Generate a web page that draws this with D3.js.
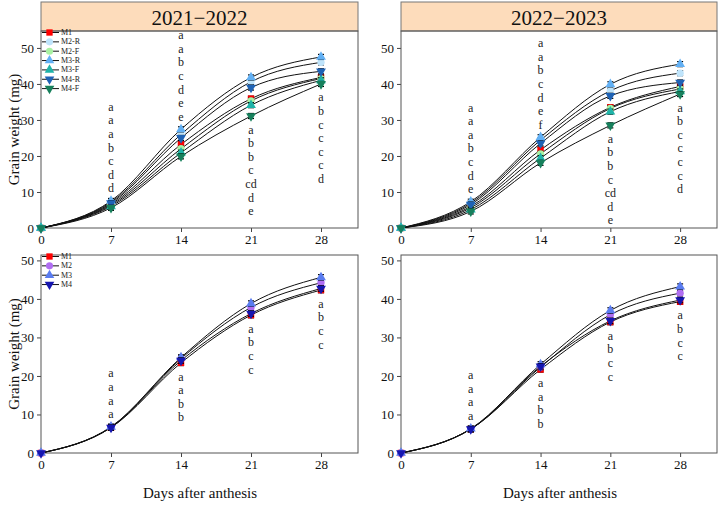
<!DOCTYPE html>
<html>
<head>
<meta charset="utf-8">
<script src="https://cdn.jsdelivr.net/npm/d3@7"></script>
<style>
body { margin: 0; background: #fff; }
text { font-family: "Liberation Serif", "Times New Roman", serif; }
</style>
</head>
<body>
<svg id="chart" width="719" height="506"></svg>
<script>
// sampling days (day 0 = 0 mg for every treatment)
var days = [0, 7, 14, 21, 28];
var xTicks = [0, 7, 14, 21, 28];
var yTicks = [0, 10, 20, 30, 40, 50];
var seasons = ["2021\u22122022", "2022\u22122023"];

// top row: cultivation mode x R/F
var treatTop = ["M1", "M2-R", "M2-F", "M3-R", "M3-F", "M4-R", "M4-F"];
var colorTop = ["#ff0000", "#bfe4fb", "#a9f2a4", "#62b0f4", "#1fb3a8", "#1f63b5", "#17805c"];
var shapeTop = ["square", "circle", "circle", "up", "up", "down", "down"];

var top2122 = [
  [0, 6.6, 23.2, 35.9, 41.8],
  [0, 7.2, 26.0, 40.6, 46.0],
  [0, 6.3, 22.0, 35.3, 41.5],
  [0, 7.5, 27.4, 41.8, 47.5],
  [0, 6.0, 20.9, 34.1, 41.0],
  [0, 6.9, 25.0, 39.0, 43.5],
  [0, 5.6, 19.9, 31.1, 40.0]
];
var top2223 = [
  [0, 6.0, 21.7, 33.5, 39.3],
  [0, 6.9, 24.4, 38.1, 43.0],
  [0, 5.6, 20.6, 33.2, 38.6],
  [0, 7.3, 25.2, 39.9, 45.5],
  [0, 5.1, 19.4, 32.3, 37.9],
  [0, 6.5, 23.5, 36.7, 40.4],
  [0, 4.6, 18.1, 28.5, 37.2]
];

// bottom row: cultivation mode only
var treatBottom = ["M1", "M2", "M3", "M4"];
var colorBottom = ["#ff0000", "#b06ef2", "#5a7cf0", "#1616b0"];
var shapeBottom = ["square", "circle", "up", "down"];

var bottom2122 = [
  [0, 6.6, 23.4, 35.8, 42.3],
  [0, 6.7, 24.5, 37.8, 44.2],
  [0, 6.8, 24.8, 38.8, 45.6],
  [0, 6.6, 24.0, 36.2, 42.7]
];
var bottom2223 = [
  [0, 6.2, 21.7, 34.0, 39.3],
  [0, 6.2, 22.3, 35.9, 41.5],
  [0, 6.3, 23.0, 37.0, 43.2],
  [0, 6.2, 22.5, 34.3, 39.7]
];

// significance letters for days 7, 14, 21, 28 (read top to bottom)
var lettersTop2122 = [["a","a","a","b","c","d","d"], ["a","a","b","c","d","e","e"], ["a","b","b","c","cd","d","e"], ["a","b","c","c","c","c","d"]];
var lettersTop2223 = [["a","a","a","b","c","d","e"], ["a","a","b","c","d","e","f"], ["a","b","b","c","cd","d","e"], ["a","b","c","c","c","c","d"]];
var lettersBottom2122 = [["a","a","a","a"], ["a","a","b","b"], ["a","b","c","c"], ["a","b","c","c"]];
var lettersBottom2223 = [["a","a","a","a"], ["a","a","b","b"], ["a","b","c","c"], ["a","b","c","c"]];
var sideTop = ["above", "above", "below", "below"];
var sideBottom = ["above", "below", "below", "below"];

var errBar = 0.7;

var svg = d3.select("#chart");

function symbolFor(shape, size) {
  if (shape == "square") return d3.symbol().type(d3.symbolSquare).size(size)();
  if (shape == "circle") return d3.symbol().type(d3.symbolCircle).size(size)();
  return d3.symbol().type(d3.symbolTriangle).size(size)();
}

function drawPanel(p) {
  var x = d3.scaleLinear().domain([0, 31.7]).range([p.x0, p.x1]);
  var y = d3.scaleLinear().domain([0, p.ymax]).range([p.y1, p.y0]);
  var g = svg.append("g");

  if (p.title) {
    g.append("rect")
      .attr("x", p.x0).attr("y", 2)
      .attr("width", p.x1 - p.x0).attr("height", p.y0 - 2)
      .style("fill", "#fddcbb").style("stroke", "#777").style("stroke-width", 1);
    g.append("text")
      .attr("x", (p.x0 + p.x1) / 2).attr("y", (p.y0 + 2) / 2 + 1)
      .attr("text-anchor", "middle").attr("dominant-baseline", "central")
      .style("font-size", "21px").style("fill", "#111")
      .text(p.title);
  }

  // axes
  var yAxis = g.append("g").attr("transform", "translate(" + p.x0 + ",0)")
    .call(d3.axisLeft(y).tickValues(yTicks.filter(function (t) { return t <= p.ymax; })).tickSize(4).tickPadding(3));
  var xAxis = g.append("g").attr("transform", "translate(0," + p.y1 + ")")
    .call(d3.axisBottom(x).tickValues(xTicks).tickSize(4).tickPadding(3));
  [yAxis, xAxis].forEach(function (a) {
    a.select(".domain").remove();
    a.selectAll("line").style("stroke", "#444");
    a.selectAll("text").style("font-size", "13px").style("fill", "#111")
      .style("font-family", '"Liberation Serif", "Times New Roman", serif');
  });

  g.append("rect")
    .attr("x", p.x0).attr("y", p.y0)
    .attr("width", p.x1 - p.x0).attr("height", p.y1 - p.y0)
    .style("fill", "none").style("stroke", "#555").style("stroke-width", 1);

  // curves
  var line = d3.line()
    .x(function (d, i) { return x(days[i]); })
    .y(function (d) { return y(d); })
    .curve(d3.curveMonotoneX);
  p.data.forEach(function (s) {
    g.append("path").attr("d", line(s))
      .style("fill", "none").style("stroke", "#111").style("stroke-width", 1);
  });

  // markers with error bars
  p.data.forEach(function (s, k) {
    s.forEach(function (v, i) {
      var cx = x(days[i]), cy = y(v);
      if (i > 0) {
        g.append("line").attr("x1", cx).attr("x2", cx)
          .attr("y1", y(v - errBar)).attr("y2", y(v + errBar))
          .style("stroke", "#000").style("stroke-width", 1.2);
        [v - errBar, v + errBar].forEach(function (e) {
          g.append("line").attr("x1", cx - 3).attr("x2", cx + 3)
            .attr("y1", y(e)).attr("y2", y(e))
            .style("stroke", "#000").style("stroke-width", 1.2);
        });
      }
      g.append("path")
        .attr("d", symbolFor(p.shapes[k], 42))
        .attr("transform", "translate(" + cx + "," + cy + ")" + (p.shapes[k] == "down" ? " rotate(180)" : ""))
        .style("fill", p.colors[k]);
    });
  });

  // significance letters
  p.letters.forEach(function (col, j) {
    var i = j + 1;
    var vals = p.data.map(function (s) { return s[i]; });
    var n = col.length;
    var cx = x(days[i]);
    col.forEach(function (t, m) {
      var cy;
      if (p.side[j] == "above") {
        cy = y(d3.max(vals) + errBar) - 10 - (n - 1 - m) * 13.6;
      } else {
        cy = y(d3.min(vals) - errBar) + 11 + m * 13.6;
      }
      g.append("text").attr("x", cx).attr("y", cy)
        .attr("text-anchor", "middle").attr("dominant-baseline", "central")
        .style("font-size", "12px").style("fill", "#222")
        .text(t);
    });
  });

  // legend
  if (p.legend) {
    p.names.forEach(function (name, k) {
      var ly = p.y0 + 1.5 + k * 9.35;
      g.append("line").attr("x1", p.x0 + 1).attr("x2", p.x0 + 18)
        .attr("y1", ly).attr("y2", ly)
        .style("stroke", "#111").style("stroke-width", 1);
      g.append("path")
        .attr("d", symbolFor(p.shapes[k], 40))
        .attr("transform", "translate(" + (p.x0 + 8.5) + "," + ly + ")" + (p.shapes[k] == "down" ? " rotate(180)" : ""))
        .style("fill", p.colors[k]);
      g.append("text").attr("x", p.x0 + 20).attr("y", ly)
        .attr("dominant-baseline", "central")
        .style("font-size", "8px").style("fill", "#222")
        .text(name);
    });
  }
}

drawPanel({ x0: 41, x1: 358, y0: 31, y1: 228, ymax: 54.7, title: seasons[0], data: top2122,
  colors: colorTop, shapes: shapeTop, names: treatTop, letters: lettersTop2122, side: sideTop, legend: true });
drawPanel({ x0: 401, x1: 717, y0: 31, y1: 228, ymax: 54.7, title: seasons[1], data: top2223,
  colors: colorTop, shapes: shapeTop, names: treatTop, letters: lettersTop2223, side: sideTop, legend: false });
drawPanel({ x0: 41, x1: 358, y0: 255, y1: 453, ymax: 51.4, title: null, data: bottom2122,
  colors: colorBottom, shapes: shapeBottom, names: treatBottom, letters: lettersBottom2122, side: sideBottom, legend: true });
drawPanel({ x0: 401, x1: 717, y0: 255, y1: 453, ymax: 51.4, title: null, data: bottom2223,
  colors: colorBottom, shapes: shapeBottom, names: treatBottom, letters: lettersBottom2223, side: sideBottom, legend: false });

// axis titles
[129.5, 354].forEach(function (cy) {
  svg.append("text")
    .attr("transform", "translate(14," + cy + ") rotate(-90)")
    .attr("text-anchor", "middle").attr("dominant-baseline", "central")
    .style("font-size", "15px").style("fill", "#111")
    .text("Grain weight (mg)");
});
[200, 560].forEach(function (cx) {
  svg.append("text")
    .attr("x", cx).attr("y", 493)
    .attr("text-anchor", "middle").attr("dominant-baseline", "central")
    .style("font-size", "15px").style("fill", "#111")
    .text("Days after anthesis");
});
</script>
</body>
</html>
